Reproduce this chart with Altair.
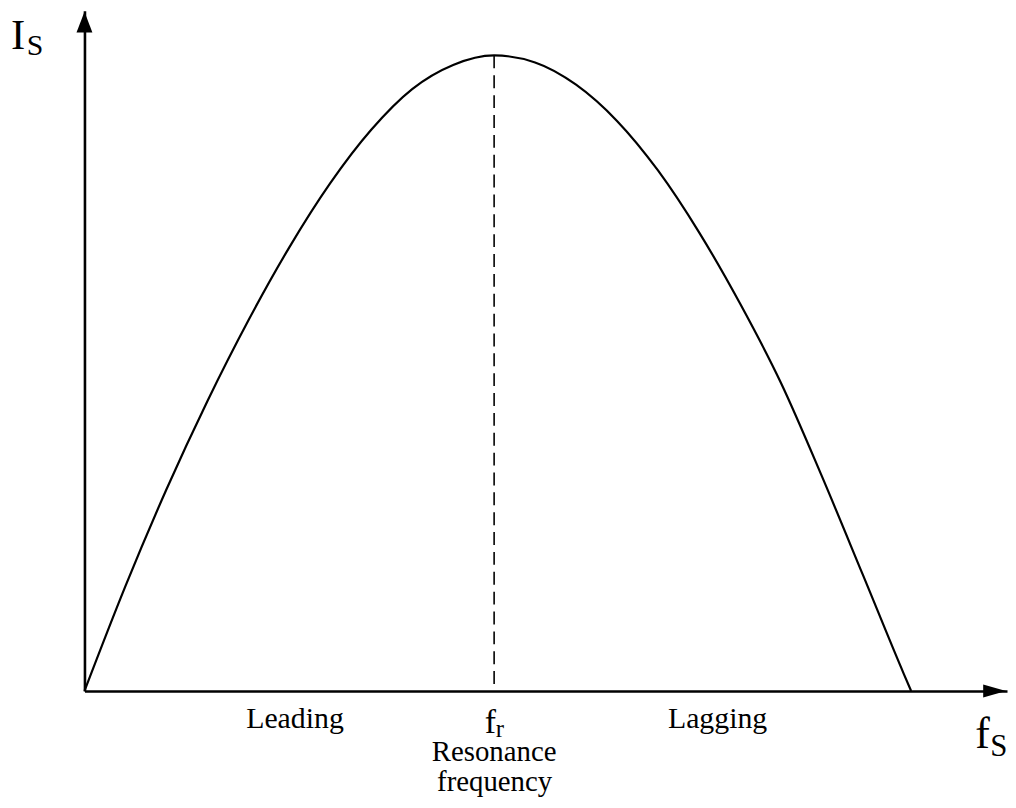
import altair as alt
import pandas as pd

# Series current I_S versus supply frequency f_S (f_r = 1, peak current = 1)
freq = [0.0, 0.1, 0.2, 0.3, 0.4, 0.5, 0.6, 0.7, 0.8, 0.9, 1.0,
        1.1, 1.2, 1.3, 1.4, 1.5, 1.6, 1.7, 1.8, 1.9, 2.0, 2.018]
current = [0.000, 0.165, 0.317, 0.456, 0.583, 0.698, 0.799, 0.883, 0.947, 0.985, 1.000,
           0.989, 0.954, 0.897, 0.819, 0.722, 0.610, 0.485, 0.338, 0.183, 0.027, 0.000]

f_res = 1.0
i_peak = 1.0

X_MAX = 2.252
Y_MAX = 1.0703

# annotation labels (text, anchor f, anchor I, font size)
sym_text = ["I", "S", "f", "S", "f", "r"]
sym_f = [-0.1794, -0.1406, 2.1745, 2.2109, 0.9770, 1.0040]
sym_i = [1.0094, 1.0, -0.0891, -0.1016, -0.0656, -0.0719]
sym_size = [43, 30, 44, 31, 34, 25]

word_text = ["Leading", "Lagging", "Resonance", "frequency"]
word_f = [0.5139, 1.5455, 1.0, 1.0012]
word_i = [-0.0578, -0.0578, -0.1094, -0.1578]
word_size = [30, 30, 29, 29]

curve_df = pd.DataFrame({"f": freq, "I": current})
sym_df = pd.DataFrame({"t": sym_text, "f": sym_f, "I": sym_i, "s": sym_size})
word_df = pd.DataFrame({"t": word_text, "f": word_f, "I": word_i, "s": word_size})

xs = alt.Scale(domain=[0, X_MAX], nice=False, zero=False)
ys = alt.Scale(domain=[0, Y_MAX], nice=False, zero=False)

ax = dict(domain=True, domainColor="black", domainWidth=2.6, ticks=False,
          labels=False, grid=False, title=None)

curve = alt.Chart(curve_df).mark_line(
    color="black", strokeWidth=2.2, interpolate="monotone"
).encode(
    x=alt.X("f:Q", scale=xs, axis=alt.Axis(**ax)),
    y=alt.Y("I:Q", scale=ys, axis=alt.Axis(**ax)),
)

dash = alt.Chart(pd.DataFrame({"f": [f_res], "top": [i_peak], "bot": [0.0]})).mark_rule(
    color="black", strokeWidth=1.6, strokeDash=[13, 7]
).encode(
    x=alt.X("f:Q", scale=xs),
    y=alt.Y("top:Q", scale=ys),
    y2="bot:Q",
)

y_arrow = alt.Chart(pd.DataFrame({"f": [0.0], "I": [Y_MAX]})).mark_point(
    shape="M0,0L0.762,2L-0.762,2Z", filled=True, color="black", opacity=1,
    size=441, strokeWidth=0, yOffset=1
).encode(x=alt.X("f:Q", scale=xs), y=alt.Y("I:Q", scale=ys))

x_arrow = alt.Chart(pd.DataFrame({"f": [X_MAX], "I": [0.0]})).mark_point(
    shape="M0,0L-2,-0.565L-2,0.565Z", filled=True, color="black", opacity=1,
    size=529, strokeWidth=0, xOffset=-1
).encode(x=alt.X("f:Q", scale=xs), y=alt.Y("I:Q", scale=ys))

syms = alt.Chart(sym_df).mark_text(
    align="left", baseline="alphabetic", font="Liberation Serif", color="black"
).encode(
    x=alt.X("f:Q", scale=xs), y=alt.Y("I:Q", scale=ys),
    text="t:N", size=alt.Size("s:Q", scale=None, legend=None),
)

words = alt.Chart(word_df).mark_text(
    align="center", baseline="alphabetic", font="Liberation Serif", color="black"
).encode(
    x=alt.X("f:Q", scale=xs), y=alt.Y("I:Q", scale=ys),
    text="t:N", size=alt.Size("s:Q", scale=None, legend=None),
)

chart = alt.layer(curve, dash, y_arrow, x_arrow, syms, words).properties(
    width=929, height=685,
    autosize=alt.AutoSizeParams(type="none"),
    padding={"left": 77, "top": 0, "right": 1, "bottom": 107},
    background="white",
).configure_view(stroke=None)

chart.save("out.html", embed_options={"renderer": "svg", "actions": False})
